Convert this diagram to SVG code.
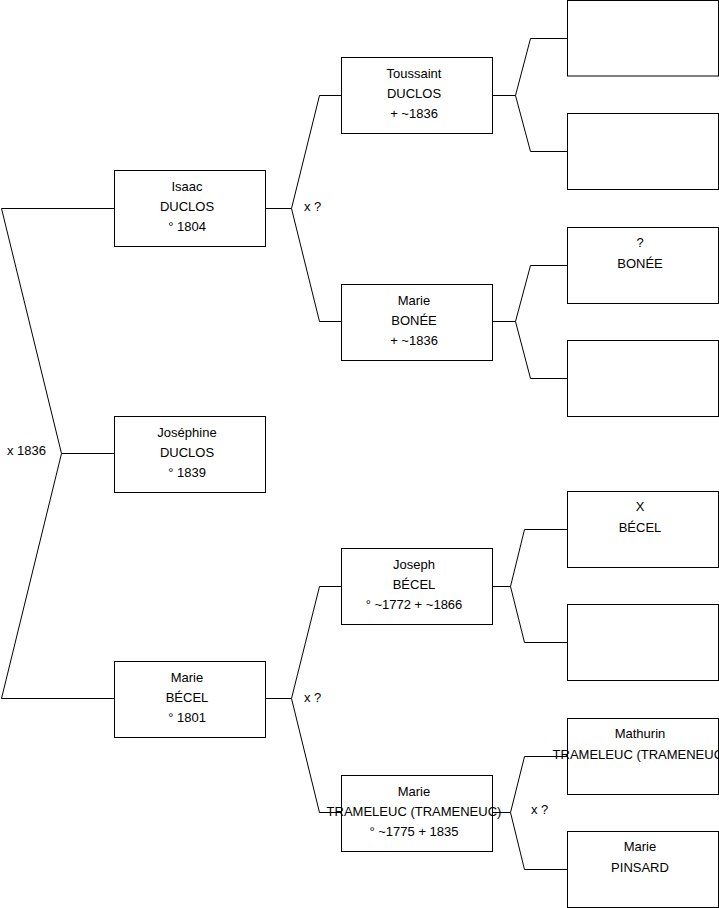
<svg xmlns="http://www.w3.org/2000/svg" width="719" height="908" viewBox="0 0 719 908">
<style>
.b{fill:#fff;stroke:#000;stroke-width:1}
.c{fill:none;stroke:#000;stroke-width:1}
text{font-family:"Liberation Sans",Arial,sans-serif;font-size:13px;fill:#000}
.m{text-anchor:middle}
</style>
<rect width="719" height="908" fill="#fff"/>
<g id="connectors">
<path class="c" d="M114,208.5 H1.5 L61.5,453.5 L1.5,698.5 H114 M61.5,453.5 H114"/>
<path class="c" d="M265,208.5 H291.5 M341,95.5 H319.5 L291.5,208.5 L319.5,321.5 H341"/>
<path class="c" d="M492,95.5 H515.5 M567,38.5 H530.5 L515.5,95.5 L530.5,151.5 H567"/>
<path class="c" d="M492,321.5 H515.5 M567,265.5 H530.5 L515.5,321.5 L530.5,378.5 H567"/>
<path class="c" d="M265,698.5 H291.5 M341,586.5 H319.5 L291.5,698.5 L319.5,812.5 H341"/>
<path class="c" d="M492,586.5 H510.5 M567,529.5 H524.5 L510.5,586.5 L524.5,642.5 H567"/>
<path class="c" d="M492,812.5 H510.5 M567,756.5 H524.5 L510.5,812.5 L524.5,869.5 H567"/>
<text x="7" y="455">x 1836</text>
<text x="304" y="211">x ?</text>
<text x="304" y="702">x ?</text>
<text x="531" y="814">x ?</text>
</g>
<g id="isaac"><rect class="b" x="114.5" y="170.5" width="151" height="76"/>
<text class="m" x="187" y="191">Isaac</text><text class="m" x="187" y="211">DUCLOS</text><text class="m" x="187" y="231">° 1804</text></g>
<g id="josephine"><rect class="b" x="114.5" y="416.5" width="151" height="76"/>
<text class="m" x="187" y="437">Joséphine</text><text class="m" x="187" y="457">DUCLOS</text><text class="m" x="187" y="477">° 1839</text></g>
<g id="marie-becel"><rect class="b" x="114.5" y="661.5" width="151" height="76"/>
<text class="m" x="187" y="682">Marie</text><text class="m" x="187" y="702">BÉCEL</text><text class="m" x="187" y="722">° 1801</text></g>
<g id="toussaint"><rect class="b" x="341.5" y="57.5" width="151" height="76"/>
<text class="m" x="414" y="78">Toussaint</text><text class="m" x="414" y="98">DUCLOS</text><text class="m" x="414" y="118"> + ~1836</text></g>
<g id="marie-bonee"><rect class="b" x="341.5" y="284.5" width="151" height="76"/>
<text class="m" x="414" y="305">Marie</text><text class="m" x="414" y="325">BONÉE</text><text class="m" x="414" y="345"> + ~1836</text></g>
<g id="joseph"><rect class="b" x="341.5" y="548.5" width="151" height="76"/>
<text class="m" x="414" y="569">Joseph</text><text class="m" x="414" y="589">BÉCEL</text><text class="m" x="414" y="609">° ~1772 + ~1866</text></g>
<g id="marie-trameleuc"><rect class="b" x="341.5" y="775.5" width="151" height="76"/>
<text class="m" x="414" y="796">Marie</text><text class="m" x="414" y="816">TRAMELEUC (TRAMENEUC)</text><text class="m" x="414" y="836">° ~1775 + 1835</text></g>
<g id="p1"><rect class="b" x="567.5" y="0.5" width="151" height="75.5"/></g>
<g id="p2"><rect class="b" x="567.5" y="113.5" width="151" height="76"/></g>
<g id="p3"><rect class="b" x="567.5" y="227.5" width="151" height="76"/>
<text class="m" x="640" y="247">?</text><text class="m" x="640" y="268">BONÉE</text></g>
<g id="p4"><rect class="b" x="567.5" y="340.5" width="151" height="76"/></g>
<g id="p5"><rect class="b" x="567.5" y="491.5" width="151" height="76"/>
<text class="m" x="640" y="511">X</text><text class="m" x="640" y="532">BÉCEL</text></g>
<g id="p6"><rect class="b" x="567.5" y="604.5" width="151" height="76"/></g>
<g id="mathurin"><rect class="b" x="567.5" y="718.5" width="151" height="76"/>
<text class="m" x="640" y="738">Mathurin</text><text class="m" x="640" y="759">TRAMELEUC (TRAMENEUC)</text></g>
<g id="marie-pinsard"><rect class="b" x="567.5" y="831.5" width="151" height="76"/>
<text class="m" x="640" y="851">Marie</text><text class="m" x="640" y="872">PINSARD</text></g>
</svg>
